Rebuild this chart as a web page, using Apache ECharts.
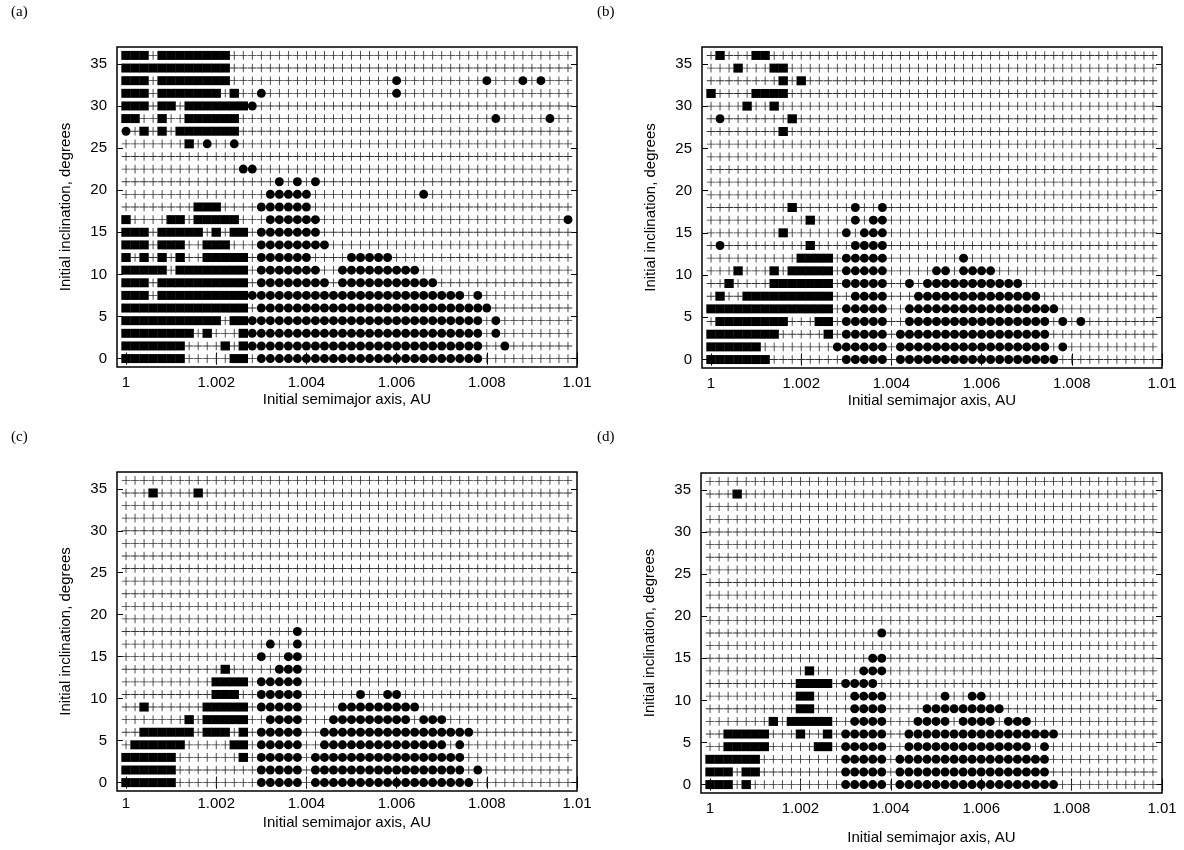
<!DOCTYPE html>
<html>
<head>
<meta charset="utf-8">
<title>Initial inclination vs initial semimajor axis</title>
<script src="https://cdn.jsdelivr.net/npm/echarts@6/dist/echarts.min.js"></script>
<style>
  html, body { margin: 0; padding: 0; background: #fff; }
  #chart { width: 1184px; height: 850px; }
</style>
</head>
<body>
<div id="chart"></div>
<script>
// grid of initial conditions (columns = semimajor axis, rows = inclination, top row first)
const semimajorAxis = [
  1.0000, 1.0002, 1.0004, 1.0006, 1.0008, 1.0010, 1.0012, 1.0014, 1.0016, 1.0018,
  1.0020, 1.0022, 1.0024, 1.0026, 1.0028, 1.0030, 1.0032, 1.0034, 1.0036, 1.0038,
  1.0040, 1.0042, 1.0044, 1.0046, 1.0048, 1.0050, 1.0052, 1.0054, 1.0056, 1.0058,
  1.0060, 1.0062, 1.0064, 1.0066, 1.0068, 1.0070, 1.0072, 1.0074, 1.0076, 1.0078,
  1.0080, 1.0082, 1.0084, 1.0086, 1.0088, 1.0090, 1.0092, 1.0094, 1.0096, 1.0098
]
const inclination = [36, 34.5, 33, 31.5, 30, 28.5, 27, 25.5, 24, 22.5, 21, 19.5, 18,
  16.5, 15, 13.5, 12, 10.5, 9, 7.5, 6, 4.5, 3, 1.5, 0]

const xTicks = [1, 1.002, 1.004, 1.006, 1.008, 1.01]
const yTicks = [0, 5, 10, 15, 20, 25, 30, 35]

// per row: column indexes (into semimajorAxis) drawn as squares / circles, all others are crosses
const squaresA = ['0-2,4-11', '0-11', '0-2,4-11', '0-2,4-10,12', '0-2,4-5,7-13', '0-1,4,7-12',
  '2,4,6-12', '7', '', '', '', '', '8-10', '0,5-6,8-12', '0-2,4-8,10,12-13', '0-2,4-6,9-11',
  '0,2,4,6,9-13', '0-4,6-13', '0-2,4-13', '0-2,4-13', '0-13', '0-10,12-13', '0-7,9,13',
  '0-6,11,13', '0-6,12-13']
const circlesA = ['', '', '30,40,44,46', '15,30', '14', '41,47', '0', '9,12', '', '13-14',
  '17,19,21', '16-20,33', '15-20', '16-21,49', '15-21', '15-22', '15-20,25-29', '15-21,24-32',
  '15-22,24-34', '14-37,39', '15-40', '14-39,41', '14-39,41', '14-39,42', '15-39']

const squaresB = ['1,5-6', '3,7-8', '8,10', '0,5-8', '4,7', '9', '8', '', '', '', '', '',
  '9', '11', '8', '11', '10-13', '3,7,9-13', '2,7-13', '1,4-13', '0-13', '1-8,12-13',
  '0-7,13', '0-5', '0-6']
const circlesB = ['', '', '', '', '', '1', '', '', '', '', '', '', '16,19', '16,18-19',
  '15,17-19', '1,16-19', '15-19,28', '15-19,25-26,28-31', '15-19,22,24-34', '16-19,23-36',
  '15-19,22-38', '15-19,22-37,39,41', '15-19,21-37', '14-19,21-37,39', '15-19,21-38']

const squaresC = ['', '3,8', '', '', '', '', '', '', '', '', '', '', '', '', '', '11',
  '10-13', '10-12', '2,9-13', '7,9-13', '2-7,9-11,13', '1-6,12-13', '0-5,13', '0-5', '0-5']
const circlesC = ['', '', '', '', '', '', '', '', '', '', '', '', '19', '16,19', '15,18-19',
  '17-19', '15-19', '15-19,26,29-30', '15-19,24-32', '16-19,23-31,33-35', '15-19,22-38',
  '15-19,22-35,37', '15-19,21-37', '15-19,21-37,39', '15-19,21-38']

const squaresD = ['', '3', '', '', '', '', '', '', '', '', '', '', '', '', '', '11',
  '10-13', '10-11', '10-11', '7,9-13', '2-6,10,13', '2-6,12-13', '0-5', '0-2,4-5', '0-2,4']
const circlesD = ['', '', '', '', '', '', '', '', '', '', '', '', '19', '', '18-19',
  '17-19', '15-18', '16-19,26,29-30', '16-19,24-32', '16-19,23-26,28-31,33-35', '15-19,22-38',
  '15-19,22-35,37', '15-19,21-37', '15-19,21-37', '15-19,21-38']

function parseCols(spec) {
  const out = new Set()
  if (!spec) return out
  spec.split(',').forEach(part => {
    const [a, b] = part.split('-').map(Number)
    for (let c = a; c <= (isNaN(b) ? a : b); c++) out.add(c)
  })
  return out
}

function buildPanel(squares, circles) {
  const cross = [], sq = [], ci = []
  inclination.forEach((inc, r) => {
    const s = parseCols(squares[r])
    const o = parseCols(circles[r])
    semimajorAxis.forEach((a, c) => {
      if (s.has(c)) sq.push([a, inc])
      else if (o.has(c)) ci.push([a, inc])
      else cross.push([a, inc])
    })
  })
  return { cross, sq, ci }
}

const panels = [
  buildPanel(squaresA, circlesA),
  buildPanel(squaresB, circlesB),
  buildPanel(squaresC, circlesC),
  buildPanel(squaresD, circlesD)
]

// plot boxes, x label margin and x title gap for each panel
const boxes = [
  { left: 117, top: 47, width: 460, height: 320, labelGap: 8, titleGap: 25 },
  { left: 702, top: 47, width: 460, height: 321, labelGap: 8, titleGap: 25 },
  { left: 117, top: 472, width: 460, height: 319, labelGap: 5, titleGap: 24 },
  { left: 701, top: 473, width: 461, height: 320, labelGap: 8, titleGap: 37 }
]
const panelLabels = [
  { text: '(a)', x: 11, y: 5 },
  { text: '(b)', x: 597, y: 5 },
  { text: '(c)', x: 11, y: 430 },
  { text: '(d)', x: 597, y: 430 }
]

const sans = 'Liberation Sans'
const tickStyle = { inside: true, length: 6, lineStyle: { color: '#000', width: 1 } }

const grid = boxes.map(b => ({
  left: b.left, top: b.top, width: b.width, height: b.height,
  show: true, borderColor: '#000', borderWidth: 1.5, backgroundColor: 'transparent'
}))

const xAxis = []
const yAxis = []
const series = []
boxes.forEach((b, i) => {
  xAxis.push({
    type: 'value', gridIndex: i, min: 0.9998, max: 1.01,
    axisLine: { show: false }, splitLine: { show: false },
    axisTick: { ...tickStyle, customValues: xTicks },
    axisLabel: {
      customValues: xTicks, margin: b.labelGap, color: '#000', fontFamily: sans, fontSize: 15,
      formatter: v => String(+v.toFixed(4))
    },
    name: 'Initial semimajor axis, AU', nameLocation: 'middle', nameGap: b.titleGap,
    nameTextStyle: { color: '#000', fontFamily: sans, fontSize: 15 }
  })
  xAxis.push({
    type: 'value', gridIndex: i, position: 'top', min: 0.9998, max: 1.01,
    axisLine: { show: false }, splitLine: { show: false },
    axisTick: { ...tickStyle, customValues: xTicks },
    axisLabel: { show: false }
  })
  yAxis.push({
    type: 'value', gridIndex: i, min: -1, max: 37,
    axisLine: { show: false }, splitLine: { show: false },
    axisTick: { ...tickStyle, customValues: yTicks },
    axisLabel: { customValues: yTicks, margin: 10, color: '#000', fontFamily: sans, fontSize: 15 },
    name: 'Initial inclination, degrees', nameLocation: 'middle', nameGap: 44, nameRotate: 90,
    nameTextStyle: { color: '#000', fontFamily: sans, fontSize: 15 }
  })
  yAxis.push({
    type: 'value', gridIndex: i, position: 'right', min: -1, max: 37,
    axisLine: { show: false }, splitLine: { show: false },
    axisTick: { ...tickStyle, customValues: yTicks },
    axisLabel: { show: false }
  })

  const p = panels[i]
  const base = { type: 'scatter', xAxisIndex: 2 * i, yAxisIndex: 2 * i, silent: true }
  series.push({
    ...base, name: 'cross', data: p.cross,
    symbol: 'path://M4.5,0h1v10h-1zM0,4.5h10v1h-10z', symbolSize: 8.6,
    itemStyle: { color: '#333', opacity: 1 }
  })
  series.push({
    ...base, name: 'square', data: p.sq, symbol: 'rect', symbolSize: [9.4, 9],
    itemStyle: { color: '#000', opacity: 1 }
  })
  series.push({
    ...base, name: 'circle', data: p.ci, symbol: 'circle', symbolSize: 9,
    itemStyle: { color: '#000', opacity: 1 }
  })
})

const chart = echarts.init(document.getElementById('chart'))
chart.setOption({
  animation: false,
  backgroundColor: '#fff',
  grid, xAxis, yAxis, series,
  graphic: panelLabels.map(l => ({
    type: 'text', left: l.x, top: l.y,
    style: { text: l.text, fill: '#000', font: '15px "Liberation Serif"' }
  }))
})
</script>
</body>
</html>
